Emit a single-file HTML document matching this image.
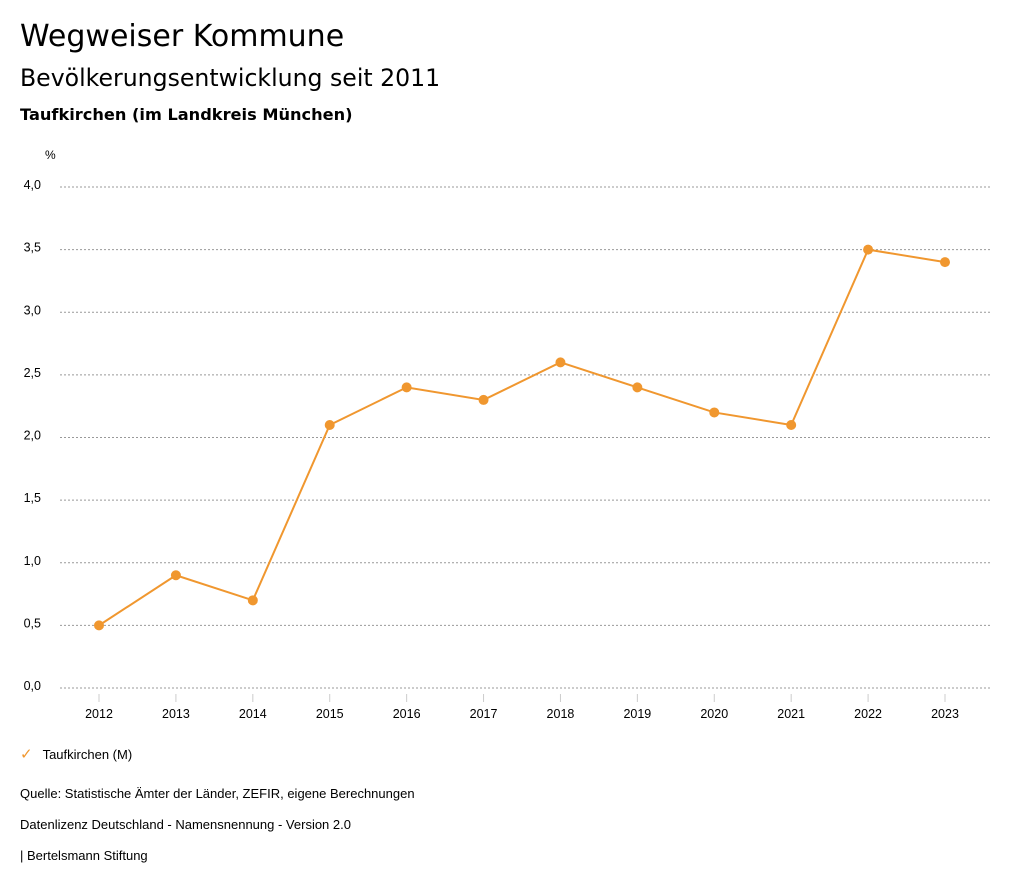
<!DOCTYPE html>
<html><head><meta charset="utf-8"><style>
body{margin:0;width:1024px;height:888px;background:#fff;font-family:"Liberation Sans",sans-serif;color:#000;overflow:hidden}
.t{position:absolute;left:20px;white-space:nowrap}
</style></head><body>
<div class="t" style="top:19px;font-size:30px;font-family:'DejaVu Sans',sans-serif">Wegweiser Kommune</div>
<div class="t" style="top:64px;font-size:23.6px;font-family:'DejaVu Sans',sans-serif">Bevölkerungsentwicklung seit 2011</div>
<div class="t" style="top:105px;font-size:16.2px;font-weight:bold;font-family:'DejaVu Sans',sans-serif">Taufkirchen (im Landkreis München)</div>
<svg id="c" style="position:absolute;left:0;top:0" width="1024" height="888"></svg>
<div class="t" style="top:745px;font-size:13px"><span style="color:#f0972f;margin-right:10px;font-size:15px">✓</span>Taufkirchen (M)</div>
<div class="t" style="top:786px;font-size:13px">Quelle: Statistische Ämter der Länder, ZEFIR, eigene Berechnungen</div>
<div class="t" style="top:817px;font-size:13px">Datenlizenz Deutschland - Namensnennung - Version 2.0</div>
<div class="t" style="top:848px;font-size:13px">| Bertelsmann Stiftung</div>
<script>
const years=["2012","2013","2014","2015","2016","2017","2018","2019","2020","2021","2022","2023"];
const values=[0.5,0.9,0.7,2.1,2.4,2.3,2.6,2.4,2.2,2.1,3.5,3.4];
const yTicks=[0,0.5,1,1.5,2,2.5,3,3.5,4];
const NS="http://www.w3.org/2000/svg",svg=document.getElementById('c');
const x=i=>99+i*(945-99)/11, y=v=>688-v*(688-187)/4;
function mk(t,a){const e=document.createElementNS(NS,t);for(const k in a)e.setAttribute(k,a[k]);svg.appendChild(e);return e;}
const u=mk('text',{x:45,y:159,'font-size':12,'font-family':'Liberation Sans'});u.textContent='%';


yTicks.forEach(v=>{
 const l=mk('line',{x1:60,x2:990,y1:y(v),y2:y(v),stroke:'#999','stroke-dasharray':'2,2','stroke-width':1});
 
 
 const t=mk('text',{x:41,y:y(v)+2,'text-anchor':'end','font-size':12.5,'font-family':'Liberation Sans'});
 t.textContent=v.toFixed(1).replace('.',',');
 
 
});
years.forEach((yr,i)=>{
 const l=mk('line',{x1:x(i),x2:x(i),y1:694,y2:702,stroke:'#ccc'});
 
 
 const t=mk('text',{x:x(i),y:718,'text-anchor':'middle','font-size':12.5,'font-family':'Liberation Sans'});
 t.textContent=yr;
 
 
});
const p=mk('polyline',{points:values.map((v,i)=>x(i)+','+y(v)).join(' '),fill:'none',stroke:'#f0972f','stroke-width':2});


values.forEach((v,i)=>{
 const c=mk('circle',{cx:x(i),cy:y(v),r:5,fill:'#f0972f'});
 
 
});
</script>
</body></html>
